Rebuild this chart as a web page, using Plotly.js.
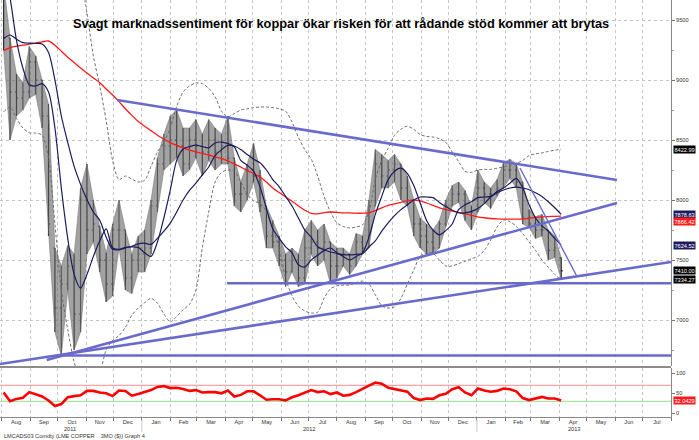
<!DOCTYPE html>
<html>
<head>
<meta charset="utf-8">
<script src="https://cdn.plot.ly/plotly-3.0.1.min.js"></script>
<style>html,body{margin:0;padding:0;background:#fff;}#chart{width:699px;height:440px;}</style>
</head>
<body>
<div id="chart"></div>
<script>
// ---------- DATA ----------
const weekDates = ['2011-08-03','2011-08-10','2011-08-17','2011-08-24','2011-08-31','2011-09-07','2011-09-14','2011-09-21','2011-09-28','2011-10-05','2011-10-12','2011-10-19','2011-10-26','2011-11-02','2011-11-09','2011-11-16','2011-11-23','2011-11-30','2011-12-07','2011-12-14','2011-12-21','2011-12-28',
'2012-01-04','2012-01-11','2012-01-18','2012-01-25','2012-02-01','2012-02-08','2012-02-15','2012-02-22','2012-02-29','2012-03-07','2012-03-14','2012-03-21','2012-03-28','2012-04-04','2012-04-11','2012-04-18','2012-04-25','2012-05-02','2012-05-09','2012-05-16','2012-05-23','2012-05-30','2012-06-06','2012-06-13','2012-06-20','2012-06-27','2012-07-04','2012-07-11','2012-07-18','2012-07-25','2012-08-01','2012-08-08','2012-08-15','2012-08-22','2012-08-29','2012-09-05','2012-09-12','2012-09-19','2012-09-26','2012-10-03','2012-10-10','2012-10-17','2012-10-24','2012-10-31','2012-11-07','2012-11-14','2012-11-21','2012-11-28','2012-12-05','2012-12-12','2012-12-19','2012-12-26',
'2013-01-02','2013-01-09','2013-01-16','2013-01-23','2013-01-30','2013-02-06','2013-02-13','2013-02-20','2013-02-27','2013-03-06','2013-03-13','2013-03-20','2013-03-27','2013-04-03'];

const openP  = [9700,9350,8900,8850,8900,9150,9000,8700,7600,7100,7300,7450,7050,8000,7750,7780,7500,7300,7750,7750,7350,7500,
7550,7600,7950,8300,8450,8500,8450,8300,8500,8450,8400,8500,8400,8450,8350,8050,8050,8250,8200,7950,7700,7650,7500,7400,7500,7350,7600,7650,7600,7650,7450,7450,7550,7450,7650,7600,7950,8300,8200,8250,8300,8100,8000,7800,7700,7650,7600,7800,7950,8050,8050,7900,
7900,8100,8050,8050,8100,8250,8250,8150,7850,7800,7750,7750,7580,7520];
const highP  = [9800,9350,9050,8980,9280,9200,9000,8800,7600,7450,7620,7550,8100,8300,8000,7780,7560,7800,8000,7750,7550,7700,
7750,8000,8350,8550,8700,8750,8600,8600,8670,8550,8670,8600,8550,8700,8350,8150,8300,8470,8250,7950,7830,7700,7550,7600,7550,7750,7830,7750,7800,7650,7600,7600,7550,7720,7700,8000,8420,8380,8330,8380,8300,8200,8000,7850,7800,7750,7830,8000,8120,8150,8080,7950,
8250,8150,8100,8170,8310,8340,8300,8150,7920,7860,7880,7750,7700,7520];
const lowP   = [9250,8500,8700,8750,8850,8880,8600,7700,6900,6700,7250,6750,6900,7550,7650,7400,7150,7200,7600,7250,7220,7400,
7400,7550,7900,8250,8300,8350,8200,8250,8350,8200,8330,8250,8300,8300,7950,7900,8000,8150,7900,7600,7600,7450,7280,7400,7280,7300,7550,7450,7500,7300,7350,7450,7380,7450,7550,7600,7950,8100,8100,8150,8000,7950,7700,7600,7550,7550,7600,7780,7950,7980,7830,7750,
7900,7980,7930,8030,8100,8180,8100,7800,7770,7680,7700,7500,7520,7340];
const closeP = [9350,8900,8850,8900,9150,9000,8700,7800,7100,7300,7450,7050,8000,7750,7800,7500,7300,7750,7750,7350,7500,7550,
7600,7950,8300,8450,8500,8450,8300,8500,8450,8400,8500,8400,8450,8350,8050,8050,8250,8200,7950,7700,7650,7500,7400,7500,7350,7600,7650,7600,7650,7450,7450,7550,7450,7650,7600,7950,8300,8200,8250,8300,8100,8000,7800,7700,7650,7600,7800,7950,8050,8050,7900,7900,
8100,8050,8050,8100,8250,8250,8150,7850,7800,7750,7750,7580,7600,7410];

const ma200 = [9245,9270,9283,9290,9300,9308,9318,9325,9290,9240,9190,9145,9100,9058,9017,8978,8925,8875,8820,8760,8705,8655,
8615,8578,8540,8508,8478,8455,8435,8415,8400,8388,8375,8360,8345,8325,8300,8275,8245,8220,8192,8150,8100,8062,8025,7990,7950,7915,7888,7885,7895,7900,7897,7893,7892,7890,7890,7893,7912,7935,7955,7968,7980,7992,8000,7992,7975,7955,7935,7920,7908,7895,7885,7872,
7860,7852,7846,7842,7840,7840,7840,7842,7848,7855,7860,7862,7864,7866];
const ma50 = [9345,9375,9340,9312,9308,9305,9300,9230,9000,8700,8480,8280,8130,8005,7900,7830,7690,7590,7585,7600,7615,7635,
7640,7630,7680,7740,7808,7900,8000,8080,8140,8210,8275,8370,8420,8455,8450,8420,8380,8340,8310,8250,8170,8110,8030,7950,7850,7750,7690,7610,7585,7567,7555,7545,7542,7548,7552,7610,7660,7740,7810,7870,7920,7960,8000,8025,8025,8020,7980,7945,7915,7895,7892,7905,
7930,7970,8025,8060,8083,8100,8108,8100,8085,8060,8030,7985,7935,7880];
const ma20 = [9900,9680,9330,9100,8960,8950,8970,8900,8600,8100,7680,7380,7265,7380,7530,7660,7760,7600,7590,7605,7610,7605,
7560,7530,7650,7850,8083,8330,8425,8445,8458,8445,8435,8475,8483,8470,8442,8330,8290,8240,8110,7930,7760,7680,7610,7560,7460,7442,7500,7540,7580,7600,7560,7530,7500,7530,7560,7690,7880,8030,8170,8240,8265,8220,8120,7975,7830,7750,7710,7745,7800,7920,7960,7985,
8020,8025,8030,8070,8100,8140,8180,8100,7960,7850,7785,7740,7680,7625];
const bbUpper = [null,null,null,null,null,null,null,null,null,null,null,null,9880,9560,9200,8950,8660,8330,8170,8200,8175,8150,
8165,8280,8400,8480,8600,8780,8900,8950,8975,8970,8930,8860,8740,8692,8720,8750,8760,8770,8775,8775,8770,8760,8740,8650,8520,8420,8340,8200,8030,7900,7810,7780,7767,7775,7792,7900,8170,8330,8430,8540,8590,8615,8590,8545,8530,8525,8510,8480,8400,8320,8240,8230,
8250,8255,8255,8265,8275,8290,8305,8330,8370,8385,8392,8405,8415,8423];
const bbLower = [8735,8775,8680,8600,8560,8558,8540,8350,7800,7250,6920,6650,6500,6450,6480,6560,6750,6830,6870,6940,7040,7100,
7145,7180,7140,7050,6985,7030,7085,7130,7250,7600,7900,8150,8230,8250,8240,8150,8050,7990,7975,7900,7760,7600,7350,7200,7115,7075,7058,7065,7180,7260,7285,7290,7292,7310,7325,7300,7210,7120,7100,7110,7180,7300,7417,7530,7560,7555,7500,7450,7450,7470,7490,7510,
7530,7580,7667,7775,7833,7820,7780,7720,7650,7580,7500,7440,7380,7334];
const rsi = [52,30,36,39,53,47,42,32,18,23,40,43,45,56,56,52,50,43,57,56,44,48,
53,58,66,68,63,64,61,56,58,52,53,53,50,57,42,46,55,55,45,34,35,35,32,40,45,52,58,53,55,48,52,44,46,53,60,69,77,74,64,61,57,54,38,33,37,36,45,49,60,65,52,45,
62,57,54,56,62,60,55,38,33,37,41,37,37,32];

// trend lines (start/end dates and values)
const trendDates = [
  ['2011-12-05','2013-06-03'],
  ['2011-09-19','2013-06-03'],
  ['2011-07-30','2013-08-01'],
  ['2012-04-03','2013-08-01'],
  ['2011-10-03','2013-08-01'],
  ['2013-02-17','2013-04-20']
];
const trendValues = [
  [8833,8167],
  [6667,7975],
  [6633,7483],
  [7306,7306],
  [6704,6704],
  [8267,7367]
];
const trendWidths = [2.6,2.6,2.6,2.4,2.4,1.4];

const lastLabels = ['8422.99','7878.63','7866.42','7624.52','7410.00','7334.27'];
const lastValues = [8422.99,7878.63,7866.42,7624.52,7410.00,7334.27];
const lastColors = ['#000000','#1c1c5c','#ff1a1a','#1c1c5c','#000000','#000000'];
const lastShift  = [0,0,-5,0,0,0];
const rsiLast = 32.0429;
const rsiLevels = [70,30];
const rsiLevelColors = ['#ff8c8c','#8fe08f'];
const years = ['2011','2012','2013'];
const xRange = ['2011-07-30','2013-08-01'];

// ---------- CHART ----------
const NAVY = '#1c1c5c', TREND = '#6a6acd', SMALL = 5.6;
const traces = [];
traces.push({type:'scatter',mode:'lines',x:weekDates,y:bbUpper,xaxis:'x2',yaxis:'y',
  line:{color:'#707070',width:1,dash:'3px,2px',shape:'spline',smoothing:0.8},connectgaps:false,hoverinfo:'skip'});
traces.push({type:'scatter',mode:'lines',x:weekDates,y:bbLower,xaxis:'x2',yaxis:'y',
  line:{color:'#707070',width:1,dash:'3px,2px',shape:'spline',smoothing:0.8},hoverinfo:'skip'});
// grey price range band behind the bars
traces.push({type:'scatter',mode:'lines',x:weekDates,y:highP,xaxis:'x2',yaxis:'y',
  line:{color:'rgba(120,120,120,0.7)',width:0.8},hoverinfo:'skip'});
traces.push({type:'scatter',mode:'lines',x:weekDates,y:lowP,xaxis:'x2',yaxis:'y',fill:'tonexty',
  fillcolor:'rgba(105,105,105,0.62)',line:{color:'rgba(120,120,120,0.7)',width:0.8},hoverinfo:'skip'});
traces.push({type:'ohlc',x:weekDates,open:openP,high:highP,low:lowP,close:closeP,xaxis:'x2',yaxis:'y',
  increasing:{line:{color:'#3a3a3a',width:1.2}},decreasing:{line:{color:'#111111',width:1.2}},tickwidth:0.25});
traces.push({type:'scatter',mode:'lines',x:weekDates,y:ma200,xaxis:'x2',yaxis:'y',
  line:{color:'#ff1a1a',width:1.3,shape:'spline',smoothing:0.8}});
traces.push({type:'scatter',mode:'lines',x:weekDates,y:ma50,xaxis:'x2',yaxis:'y',
  line:{color:NAVY,width:1.2,shape:'spline',smoothing:0.8}});
traces.push({type:'scatter',mode:'lines',x:weekDates,y:ma20,xaxis:'x2',yaxis:'y',
  line:{color:NAVY,width:1.2,shape:'spline',smoothing:0.8}});
trendDates.forEach((d,i)=>{
  traces.push({type:'scatter',mode:'lines',x:d,y:trendValues[i],xaxis:'x2',yaxis:'y',
    line:{color:TREND,width:trendWidths[i]}});
});
traces.push({type:'scatter',mode:'lines',x:weekDates,y:rsi,xaxis:'x',yaxis:'y2',
  line:{color:'#ff0000',width:2.6}});

const annotations = [];
lastLabels.forEach((t,i)=>{
  annotations.push({xref:'paper',x:1,xanchor:'left',xshift:2,yref:'y',y:lastValues[i],yshift:lastShift[i],yanchor:'middle',
    text:t,showarrow:false,bgcolor:lastColors[i],font:{color:'#fff',size:SMALL},borderpad:0.5});
});
annotations.push({xref:'paper',x:1,xanchor:'left',xshift:2,yref:'y2',y:rsiLast,yanchor:'middle',
  text:rsiLast.toFixed(4),showarrow:false,bgcolor:'#ff1a1a',font:{color:'#fff',size:SMALL},borderpad:0.5});
// year labels centred in each visible year span
const r0 = new Date(xRange[0]).getTime(), r1 = new Date(xRange[1]).getTime();
years.forEach(y=>{
  const a = Math.max(r0,new Date(y+'-01-01').getTime());
  const b = Math.min(r1,new Date((+y+1)+'-01-01').getTime());
  annotations.push({xref:'x',x:new Date((a+b)/2).toISOString().slice(0,10),yref:'paper',y:-0.0295,yanchor:'middle',
    text:y,showarrow:false,font:{size:SMALL,color:'#333'}});
});
annotations.push({xref:'paper',x:0.003,xanchor:'left',yref:'paper',y:-0.0465,yanchor:'middle',showarrow:false,
  text:'LMCADS03 Comdty (LME COPPER&nbsp;&nbsp;&nbsp;&nbsp;3MO ($)) Graph 4',font:{size:SMALL,color:'#333'}});
annotations.push({xref:'container',x:0.556,xanchor:'center',yref:'paper',y:-0.0465,yanchor:'middle',showarrow:false,
  text:'Copyright© 2013 Bloomberg Finance L.P.',font:{size:SMALL,color:'#333'}});
annotations.push({xref:'container',x:0.998,xanchor:'right',yref:'paper',y:-0.0465,yanchor:'middle',showarrow:false,
  text:'05-Apr-2013 15:31:49',font:{size:SMALL,color:'#333'}});

const shapes = [];
rsiLevels.forEach((v,i)=>shapes.push({type:'line',xref:'paper',x0:0,x1:1,yref:'y2',y0:v,y1:v,line:{color:rsiLevelColors[i],width:1},layer:'below'}));
shapes.push({type:'line',xref:'paper',x0:0,x1:1,yref:'paper',y0:0.1199,y1:0.1199,line:{color:'#8c8c8c',width:2}});
years.slice(1).forEach(y=>shapes.push({type:'line',xref:'x',x0:y+'-01-01',x1:y+'-01-01',yref:'paper',y0:-0.006,y1:-0.036,line:{color:'#cccccc',width:1}}));

const gridC = '#c4c4c4';
const layout = {
  width:699,height:440,margin:{l:0,r:28,t:0,b:23},
  paper_bgcolor:'#ffffff',plot_bgcolor:'#ffffff',showlegend:false,
  font:{family:'Liberation Sans, Arial, sans-serif',size:SMALL,color:'#333'},
  title:{text:'<b>Svagt marknadssentiment för koppar ökar risken för att rådande stöd kommer att brytas</b>',
    font:{family:'Liberation Sans, Arial, sans-serif',size:12.8,color:'#000'},
    xref:'container',x:0.488,xanchor:'center',yref:'container',y:1-24/440,yanchor:'middle'},
  xaxis:{type:'date',range:xRange,anchor:'y2',domain:[0,1],dtick:'M1',tick0:'2011-08-01',ticklabelmode:'period',tickformat:'%b',
    ticks:'outside',ticklen:3,tickcolor:'#777',showgrid:true,gridcolor:gridC,griddash:'dot',gridwidth:1,ticklabelstandoff:-4,
    showline:true,linecolor:'#888',linewidth:1,tickfont:{size:SMALL,color:'#333'},rangeslider:{visible:false},zeroline:false},
  xaxis2:{type:'date',matches:'x',anchor:'y',domain:[0,1],dtick:'M1',tick0:'2011-08-01',showticklabels:false,ticks:'',
    showgrid:true,gridcolor:gridC,griddash:'dot',gridwidth:1,rangeslider:{visible:false},zeroline:false},
  yaxis:{domain:[0.1223,1],side:'right',range:[6616.7,9666.7],tick0:7000,dtick:500,tickformat:'d',
    ticks:'outside',ticklen:3,tickcolor:'#777',showgrid:true,gridcolor:gridC,griddash:'dot',
    showline:true,linecolor:'#888',linewidth:1,zeroline:false,tickfont:{size:SMALL,color:'#333'},
    minor:{dtick:250,tick0:7000,ticks:'outside',ticklen:2,tickcolor:'#999',showgrid:false}},
  yaxis2:{domain:[0,0.1175],side:'right',range:[-9.25,113.25],tickvals:[0,50,100],
    ticks:'outside',ticklen:3,tickcolor:'#777',showgrid:false,showline:true,linecolor:'#888',linewidth:1,
    zeroline:false,tickfont:{size:SMALL,color:'#333'}},
  annotations:annotations,shapes:shapes
};
Plotly.newPlot('chart',traces,layout,{displayModeBar:false,staticPlot:true});
</script>
</body>
</html>
